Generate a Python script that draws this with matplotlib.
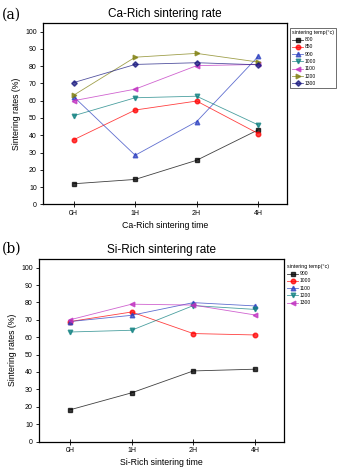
import numpy as np
import matplotlib
matplotlib.use('Agg')
import matplotlib.pyplot as plt

plt.rcParams['font.family'] = ['Liberation Sans', 'DejaVu Sans']

times = ['0H', '1H', '2H', '4H']

# Ca-rich panel
ca_temps = ['800', '850', '900', '1000', '1100', '1200', '1300']
ca_800 = [11.9, 14.4, 25.5, 43.1]
ca_850 = [37.4, 54.6, 59.8, 41.0]
ca_900 = [62.3, 28.4, 47.9, 85.6]
ca_1000 = [51.3, 61.7, 62.6, 46.0]
ca_1100 = [60.0, 66.7, 80.3, 81.0]
ca_1200 = [63.2, 85.2, 87.4, 82.4]
ca_1300 = [70.5, 81.0, 82.0, 80.8]
ca_rates = [ca_800, ca_850, ca_900, ca_1000, ca_1100, ca_1200, ca_1300]

# Si-rich panel
si_temps = ['900', '1000', '1100', '1200', '1300']
si_900 = [18.2, 28.0, 40.6, 41.6]
si_1000 = [69.0, 74.5, 62.1, 61.3]
si_1100 = [69.0, 72.6, 79.9, 78.0]
si_1200 = [63.0, 64.0, 78.2, 76.0]
si_1300 = [70.0, 79.0, 78.5, 72.8]
si_rates = [si_900, si_1000, si_1100, si_1200, si_1300]

style = {
    '800': ('black', 's'), '850': ('red', 'o'), '900': ('#2b3fc0', '^'),
    '1000': ('#0f8080', 'v'), '1100': ('#c030c0', '<'), '1200': ('#808010', '>'),
    '1300': ('#1a1a80', 'D'),
}
si_style = {
    '900': style['800'], '1000': style['850'], '1100': style['900'],
    '1200': style['1000'], '1300': style['1100'],
}

W, H = 341, 468
fig = plt.figure(figsize=(W / 100, H / 100), dpi=100)


def panel(rect, temps, rates, sty, title, xlabel, tag, tag_y, leg_anchor, frame):
    ax = fig.add_axes(rect)
    x = np.arange(len(times))
    for t, r in zip(temps, rates):
        c, m = sty[t]
        ms = 2.8 if m == 'D' else 3.3
        ax.plot(x, r, color=c, lw=0.6, alpha=0.75, marker=m, ms=ms,
                mfc=c, mec=c, label=t)
    ax.set_xlim(-0.5, 3.47)
    ax.set_ylim(0, 105)
    ax.set_xticks(x)
    ax.set_xticklabels(times)
    ax.set_yticks(np.arange(0, 101, 10))
    ax.tick_params(axis='both', labelsize=5, width=0.6, length=2.5, pad=2)
    ax.tick_params(axis='x', direction='inout', length=4)
    for s in ax.spines.values():
        s.set_linewidth(0.9)
    ax.set_title(title, fontsize=8.5, pad=4)
    ax.set_xlabel(xlabel, fontsize=6.3, labelpad=3)
    ax.set_ylabel('Sintering rates (%)', fontsize=6.3, labelpad=3)
    leg = ax.legend(title='sintering temp(\u00b0c)', fontsize=3.6,
                    title_fontsize=3.8, loc='upper left',
                    bbox_to_anchor=leg_anchor, bbox_transform=fig.transFigure,
                    frameon=frame, fancybox=False, edgecolor='black',
                    handlelength=2.2, labelspacing=0.45, borderpad=0.4,
                    handletextpad=0.3, borderaxespad=0)
    leg.get_frame().set_linewidth(0.5)
    leg._legend_box.align = 'left'
    fig.text(0.006, tag_y, tag, fontsize=10, family='serif', va='center')
    return ax


panel([43 / W, 1 - 204.3 / H, 244 / W, 181.3 / H], ca_temps, ca_rates, style,
      'Ca-Rich sintering rate', 'Ca-Rich sintering time', '(a)', 1 - 15 / H,
      (290 / W, 1 - 28 / H), True)
panel([39 / W, 1 - 441.5 / H, 245 / W, 182.5 / H], si_temps, si_rates, si_style,
      'Si-Rich sintering rate', 'Si-Rich sintering time', '(b)', 1 - 249 / H,
      (285 / W, 1 - 262 / H), False)

fig.savefig('out.png', dpi=100)
